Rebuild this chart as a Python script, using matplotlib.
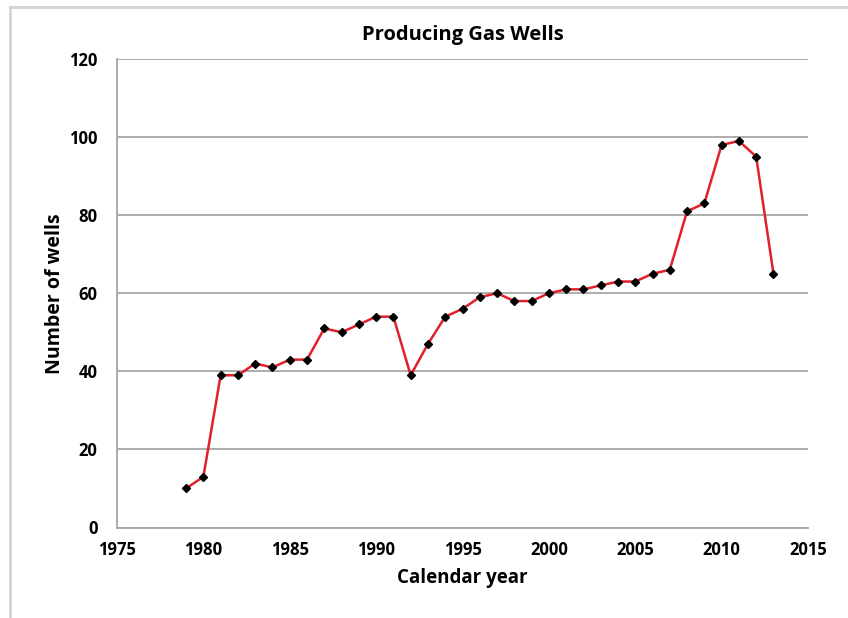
import matplotlib.pyplot as plt
from matplotlib.lines import Line2D

# Producing gas wells per calendar year
years = [1979, 1980, 1981, 1982, 1983, 1984, 1985, 1986, 1987, 1988,
         1989, 1990, 1991, 1992, 1993, 1994, 1995, 1996, 1997, 1998,
         1999, 2000, 2001, 2002, 2003, 2004, 2005, 2006, 2007, 2008,
         2009, 2010, 2011, 2012, 2013]
wells = [10, 13, 39, 39, 42, 41, 43, 43, 51, 50,
         52, 54, 54, 39, 47, 54, 56, 59, 60, 58,
         58, 60, 61, 61, 62, 63, 63, 65, 66, 81,
         83, 98, 99, 95, 65]

x_ticks = [1975, 1980, 1985, 1990, 1995, 2000, 2005, 2010, 2015]
y_ticks = [0, 20, 40, 60, 80, 100, 120]

plt.rcParams['font.family'] = ['Open Sans', 'DejaVu Sans']

fig = plt.figure(figsize=(8.48, 6.18), dpi=100)
ax = fig.add_axes([117 / 848, 1 - 527.5 / 618, 691 / 848, 468.5 / 618])

ax.plot(years, wells, color='#e0202a', linewidth=1.8, marker='D',
        markersize=4, markerfacecolor='black', markeredgecolor='black',
        zorder=3)

ax.set_xlim(1975, 2015)
ax.set_ylim(0, 120)
ax.set_xticks(x_ticks)
ax.set_yticks(y_ticks)
ax.tick_params(length=0, labelsize=12)
ax.tick_params(axis='x', pad=10)
ax.tick_params(axis='y', pad=14)
for lbl in ax.get_xticklabels() + ax.get_yticklabels():
    lbl.set_fontweight('bold')

ax.grid(True, axis='y', color='#a6a6a6', linewidth=1.3)
ax.set_axisbelow(True)
for side in ['top', 'right']:
    ax.spines[side].set_visible(False)
for side in ['left', 'bottom']:
    ax.spines[side].set_color('#a6a6a6')
    ax.spines[side].set_linewidth(1.3)

ax.set_title('Producing Gas Wells', fontsize=14.5, fontweight='bold', pad=14)
ax.set_xlabel('Calendar year', fontsize=13.5, fontweight='bold', labelpad=6)
ax.set_ylabel('Number of wells', fontsize=14, fontweight='bold', labelpad=3)

# light frame along the top and left edge of the picture
fig.add_artist(Line2D([10 / 848, 1], [1 - 7 / 618, 1 - 7 / 618],
                      transform=fig.transFigure, color='#d4d4d4', linewidth=2))
fig.add_artist(Line2D([10 / 848, 10 / 848], [0, 1 - 7 / 618],
                      transform=fig.transFigure, color='#d4d4d4', linewidth=2))

fig.savefig('out.png', dpi=100)
